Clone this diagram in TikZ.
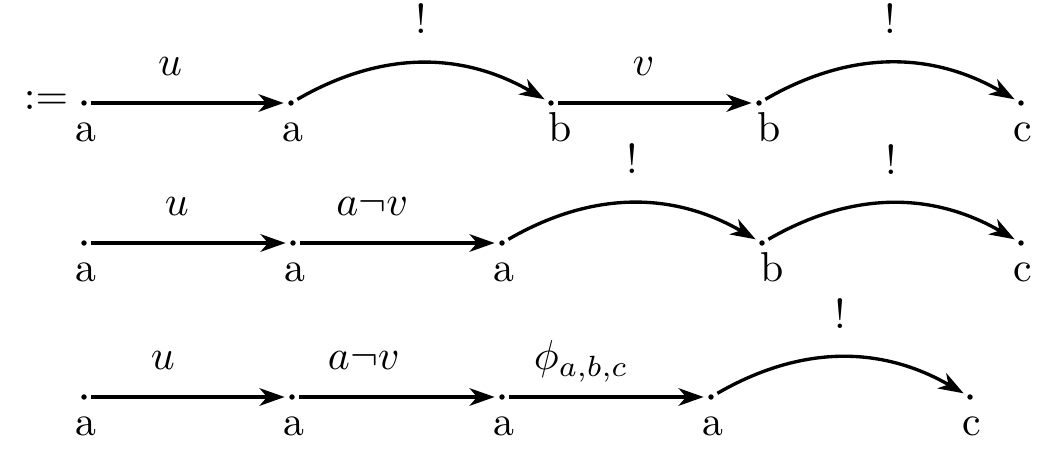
\documentclass[tikz,border=0pt]{standalone}
\usetikzlibrary{arrows.meta}

\begin{document}
\begin{tikzpicture}[x=0.0084cm, y=-0.0084cm,
  pt/.style={circle, inner sep=0pt, minimum size=0.11cm,
    path picture={\fill (path picture bounding box.center) circle (0.65pt);}},
  lbl/.style={inner sep=0pt, text height=7.2pt, xshift=0.5pt},
  lblb/.style={lbl, xshift=1.8pt},
  arr/.style={thick, -{Stealth[length=6pt, width=4.2pt, inset=1.8pt]}},
  tag/.style={anchor=base, yshift=6.5pt, inner sep=0pt},
  bang/.style={midway, anchor=base, yshift=7pt, inner sep=0pt}]

\useasboundingbox (0,0) rectangle (1053,452);

\node (def) at (46,100) {$:=$};

% first row
\node[pt, label={[lbl]below:a}] (p11) at (84,103) {};
\node[pt, label={[lbl]below:a}] (p12) at (291,103) {};
\node[pt, label={[lblb]below:b}] (p13) at (551,103) {};
\node[pt, label={[lblb]below:b}] (p14) at (759,103) {};
\node[pt, label={[lbl]below:c}] (p15) at (1021,103) {};

\draw[arr] (p11) -- node[tag, pos=.41] {$u$} (p12);
\draw[arr] (p12) to[bend left=30] node[bang] {!} (p13);
\draw[arr] (p13) -- node[tag, pos=.44] {$v$} (p14);
\draw[arr] (p14) to[bend left=30] node[bang] {!} (p15);

% second row
\node[pt, label={[lbl]below:a}] (p21) at (84,243) {};
\node[pt, label={[lbl]below:a}] (p22) at (293,243) {};
\node[pt, label={[lbl]below:a}] (p23) at (502,243) {};
\node[pt, label={[lblb]below:b}] (p24) at (762,243) {};
\node[pt, label={[lbl]below:c}] (p25) at (1021,243) {};

\draw[arr] (p21) -- node[tag, pos=.44] {$u$} (p22);
\draw[arr] (p22) -- node[tag, pos=.37] {$a\neg v$} (p23);
\draw[arr] (p23) to[bend left=30] node[bang] {!} (p24);
\draw[arr] (p24) to[bend left=30] node[bang] {!} (p25);

% third row
\node[pt, label={[lbl]below:a}] (p31) at (84,397) {};
\node[pt, label={[lbl]below:a}] (p32) at (292,397) {};
\node[pt, label={[lbl]below:a}] (p33) at (502,397) {};
\node[pt, label={[lbl]below:a}] (p34) at (711,397) {};
\node[pt, label={[lbl]below:c}] (p35) at (970,397) {};

\draw[arr] (p31) -- node[tag, pos=.37] {$u$} (p32);
\draw[arr] (p32) -- node[tag, pos=.33] {$a\neg v$} (p33);
\draw[arr] (p33) -- node[tag, pos=.37] {$\phi_{a,b,c}$} (p34);
\draw[arr] (p34) to[bend left=30] node[bang] {!} (p35);

\end{tikzpicture}
\end{document}
